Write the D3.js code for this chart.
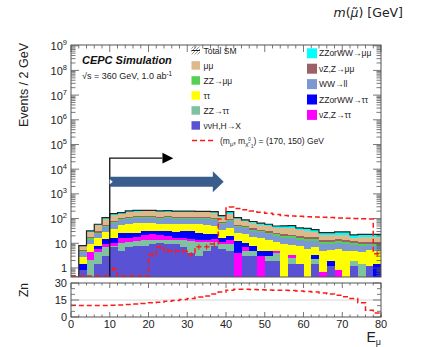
<!DOCTYPE html>
<html>
<head>
<meta charset="utf-8">
<script src="https://cdn.jsdelivr.net/npm/d3@7"></script>
<style>
  body { margin: 0; background: #fff; }
  svg { display: block; font-family: "Liberation Sans", Arial, Helvetica, sans-serif; }
</style>
</head>
<body>
<svg id="chart" width="423" height="347"></svg>
<script>
// bin low edges of E_mu (2 GeV bins)
const binLow = [0, 2, 4, 6, 8, 10, 12, 14, 16, 18, 20, 22, 24, 26, 28, 30, 32, 34, 36, 38,
                40, 42, 44, 46, 48, 50, 52, 54, 56, 58, 60, 62, 64, 66, 68, 70, 72, 74, 76, 78]

// background components, bottom of the stack first
const vvH    = [0, 0.8, 0, 1.5, 3, 7, 5, 7, 8, 8, 9, 10, 9, 9, 7, 4, 3, 5, 8, 6,
                5, 0, 3, 3, 0, 2, 2, 0, 1.5, 1.5, 0, 1.5, 0, 1.2, 0, 0, 1.2, 0, 1.2, 0]
const zztt   = [0, 0, 2.1, 3, 4, 1, 5, 4, 4, 5, 4, 3, 4, 5, 6, 8, 8, 6, 3, 3,
                4, 0, 2, 2, 0, 1, 2, 0, 1, 0, 0, 0.8, 0, 0, 0, 0, 0.8, 1.5, 0, 0]
const nzztt  = [0, 0, 2.4, 1.5, 2, 2, 6, 5, 6, 8, 10, 9, 7, 3, 3, 3, 3, 3, 4, 2,
                5, 4, 2, 0, 3, 0, 1, 0, 0.8, 0, 0, 0, 0.7, 0, 0.8, 0, 0, 0, 0, 0]
const zzwwtt = [0, 0.7, 0, 2, 6, 6, 10, 9, 8, 9, 7, 8, 10, 12, 14, 15, 12, 10, 8, 6,
                5, 8, 3, 3, 2, 2, 0, 0, 0, 0, 0, 1, 0, 0.8, 0, 0, 0, 0, 0, 1.5]
const tautau = [0, 1.4, 4.5, 8, 14, 22, 28, 35, 38, 35, 34, 30, 32, 30, 32, 30, 32, 30, 28, 18,
                22, 14, 14, 10, 12, 8, 6, 9, 5, 6, 6, 4, 4.3, 3.5, 5, 5, 3, 3, 4, 3.5]
const wwll   = [0, 1.4, 4.5, 8, 16, 30, 33, 38, 40, 42, 42, 40, 42, 40, 38, 40, 40, 42, 40, 26,
                36, 20, 16, 14, 12, 10, 9, 8, 8, 6, 6, 5, 4, 4, 4, 4, 3.5, 3.5, 3, 3]
const zzmm   = [0, 0.5, 2.5, 3, 5, 7, 8, 9, 9, 9, 9, 9, 9, 9, 9, 9, 9, 9, 9, 6,
                9, 5, 4, 4, 3, 3, 3, 3, 3, 2.5, 2.5, 2.5, 2, 2, 2, 2, 1.5, 1.5, 1.5, 1.5]
const nzzmm  = [0, 0.5, 2.5, 3, 5, 7, 9, 10, 10, 10, 10, 10, 10, 10, 10, 10, 10, 10, 10, 7,
                10, 6, 5, 4, 4, 4, 3, 3, 3, 3, 3.5, 3, 2.5, 2.5, 2.5, 2.5, 2, 2, 2, 2]
const mumu   = [0, 2.3, 11, 24, 45, 61, 50, 68, 70, 68, 70, 66, 67, 63, 62, 62, 60, 62, 62, 44,
                60, 40, 30, 27, 21, 21, 17, 18, 19, 14, 13, 10, 7.5, 7, 8, 9, 5, 6.5, 6.3, 6.5]
const zzwwmm = [0, 0.4, 2.5, 5, 9, 17, 19, 20, 22, 21, 20, 20, 20, 19, 19, 19, 18, 18, 18, 13,
                35, 12, 10, 9, 8, 8, 7, 10, 10, 9, 9, 8, 6, 6, 6.7, 6.5, 5, 5, 5, 5]

// signal (m_smuon, m_chi) = (170, 150) GeV
const signal = [0, 0, 0, 0, 0, 0.83, 0, 0, 0, 0, 3.2, 6.5, 4.5, 4.3, 4.3, 3.2, 6.6, 6.6, 8.5, 88,
                265, 234, 209, 186, 166, 148, 132, 120, 117, 112, 109, 106, 103, 100, 97, 94, 91, 89, 87, 3.4]

// significance per bin (lower pad)
const zn = [10.3, 10.2, 10.1, 10.1, 10.1, 10.3, 10.6, 11.0, 11.5, 12.0, 12.6, 13.1, 14.0, 14.6, 15.5, 16.3, 17.6, 18.6, 20.3, 22.0,
            23.7, 24.4, 24.5, 24.3, 24.1, 23.9, 23.7, 23.5, 23.3, 23.0, 22.6, 22.0, 21.2, 20.4, 19.3, 17.9, 16.4, 12.5, 6.0, 3.5]

const xTicks = [0, 10, 20, 30, 40, 50, 60, 70, 80]
const yDecades = [0, 1, 2, 3, 4, 5, 6, 7, 8, 9]
const znTicks = [0, 15, 30]

const keys = ['vvH', 'zztt', 'nzztt', 'zzwwtt', 'tautau', 'wwll', 'zzmm', 'nzzmm', 'mumu', 'zzwwmm']
const seriesByKey = { vvH, zztt, nzztt, zzwwtt, tautau, wwll, zzmm, nzzmm, mumu, zzwwmm }
const colors = {
  vvH: '#5a52d5', zztt: '#7fc2a0', nzztt: '#ff00ff', zzwwtt: '#0000ff', tautau: '#ffff00',
  wwll: '#7b98d2', zzmm: '#55d055', nzzmm: '#9a6268', mumu: '#dbb98b', zzwwmm: '#00ffff'
}

const svg = d3.select('#chart')
const frame = { l: 71, r: 381, t: 45, b: 277 }
const zf = { t: 283, b: 317 }
const yMin = 0.43

const x = d3.scaleLinear().domain([0, 80]).range([frame.l, frame.r])
const y = d3.scaleLog().domain([yMin, 1.07e9]).range([frame.b, frame.t]).clamp(true)
const yz = d3.scaleLinear().domain([0, 30]).range([zf.b, zf.t])

svg.append('defs').append('clipPath').attr('id', 'clipMain')
  .append('rect').attr('x', frame.l).attr('y', frame.t)
  .attr('width', frame.r - frame.l).attr('height', frame.b - frame.t)

const hatch = svg.select('defs').append('pattern').attr('id', 'hatch')
  .attr('patternUnits', 'userSpaceOnUse').attr('width', 3).attr('height', 3)
hatch.append('path').attr('d', 'M0,3 L3,0').attr('stroke', '#777').attr('stroke-width', 0.8)

// rows for the stack, with a closing row at 80 GeV
const rows = binLow.map((b, i) => {
  const r = { x: b }
  keys.forEach(k => { r[k] = seriesByKey[k][i] })
  return r
})
rows.push({ ...rows[rows.length - 1], x: 80 })

const stacked = d3.stack().keys(keys)(rows)
const area = d3.area()
  .curve(d3.curveStepAfter)
  .x(d => x(d.data.x))
  .y0(d => y(Math.max(d[0], yMin)))
  .y1(d => y(Math.max(d[1], yMin)))

const plot = svg.append('g').attr('clip-path', 'url(#clipMain)')

plot.selectAll('.layer')
  .data(stacked)
  .enter()
  .append('path')
  .attr('class', 'layer')
  .attr('d', area)
  .attr('fill', d => colors[d.key])
  .attr('shape-rendering', 'crispEdges')

// total SM outline
const totals = rows.map(r => ({ x: r.x, v: d3.sum(keys, k => r[k]) }))
const stepLine = d3.line().curve(d3.curveStepAfter)
plot.append('path')
  .attr('d', stepLine(totals.map(d => [x(d.x), y(Math.max(d.v, yMin))])))
  .attr('fill', 'none')
  .attr('stroke', '#222')
  .attr('stroke-width', 1.2)

// signal
const sigPts = signal.map((v, i) => [x(binLow[i]), y(Math.max(v, yMin)) - 1])
sigPts.push([x(80), sigPts[sigPts.length - 1][1]])
plot.append('path')
  .attr('d', stepLine(sigPts))
  .attr('fill', 'none')
  .attr('stroke', '#ff1a1a')
  .attr('stroke-width', 1.5)
  .attr('stroke-dasharray', '5,3')

// small error bars on the low signal bins
plot.selectAll('.sigerr')
  .data(signal.map((v, i) => ({ v, i })).filter(d => d.v > 0 && d.v < 20))
  .enter()
  .append('line')
  .attr('x1', d => x(binLow[d.i] + 1))
  .attr('x2', d => x(binLow[d.i] + 1))
  .attr('y1', d => y(d.v) - 3.5)
  .attr('y2', d => y(d.v) + 2)
  .attr('stroke', '#ff1a1a')
  .attr('stroke-width', 1)

// cut arrows
const cutX = x(10)
const arrowY = y(2.8e4)
svg.append('path')
  .attr('d', `M${cutX},${frame.b} V${arrowY} H${x(23.6)}`)
  .attr('fill', 'none')
  .attr('stroke', '#111')
  .attr('stroke-width', 1.3)
svg.append('path')
  .attr('d', `M${x(23.6)},${arrowY - 5.3} L${x(26.4)},${arrowY} L${x(23.6)},${arrowY + 5.3} Z`)
  .attr('fill', '#000')

const fatY = y(3100)
svg.append('path')
  .attr('d', `M${cutX},${fatY - 5} H${x(36.6)} V${fatY - 10.5} L${x(39.4)},${fatY} L${x(36.6)},${fatY + 10.5} V${fatY + 5} H${cutX} Z`)
  .attr('fill', '#3a5e8c')
svg.append('path')
  .attr('d', `M${cutX},${fatY - 2.5} L${cutX + 3},${fatY} L${cutX},${fatY + 2.5} Z`)
  .attr('fill', '#fff')

// main frame and ticks
const axisColor = '#555'
svg.append('rect')
  .attr('x', frame.l).attr('y', frame.t)
  .attr('width', frame.r - frame.l).attr('height', frame.b - frame.t)
  .attr('fill', 'none').attr('stroke', axisColor).attr('stroke-width', 1)

const yTickG = svg.append('g').attr('stroke', axisColor).attr('stroke-width', 0.8)
yDecades.concat([-1]).forEach(n => {
  for (let k = 1; k <= 9; k++) {
    const v = k * Math.pow(10, n)
    if (v < yMin || v > 1.07e9) continue
    const len = k === 1 ? 8 : 4.5
    const py = y(v)
    yTickG.append('line').attr('x1', frame.l).attr('x2', frame.l + len).attr('y1', py).attr('y2', py)
    yTickG.append('line').attr('x1', frame.r).attr('x2', frame.r - len).attr('y1', py).attr('y2', py)
  }
})

const xTickG = svg.append('g').attr('stroke', axisColor).attr('stroke-width', 0.8)
for (let v = 0; v <= 80; v += 2) {
  const major = v % 10 === 0
  const px = x(v)
  xTickG.append('line').attr('x1', px).attr('x2', px).attr('y1', frame.t).attr('y2', frame.t + (major ? 7 : 3.5))
  xTickG.append('line').attr('x1', px).attr('x2', px).attr('y1', zf.b).attr('y2', zf.b - (major ? 5 : 2.5))
  xTickG.append('line').attr('x1', px).attr('x2', px).attr('y1', zf.t).attr('y2', zf.t + (major ? 5 : 2.5))
}

// y tick labels (log)
const yLab = svg.append('g').attr('font-size', 11).attr('fill', '#222')
yDecades.forEach(n => {
  const t = yLab.append('text')
    .attr('x', 67)
    .attr('y', y(Math.pow(10, n)) + 4.5)
    .attr('text-anchor', 'end')
  if (n === 0) t.text('1')
  else if (n === 1) t.text('10')
  else {
    t.append('tspan').text('10')
    t.append('tspan').attr('dy', -5).attr('font-size', 7.5).text(n)
  }
})

svg.append('text')
  .attr('transform', 'translate(27.5,43) rotate(-90)')
  .attr('text-anchor', 'end')
  .attr('font-size', 12.5)
  .attr('fill', '#222')
  .text('Events / 2 GeV')

// lower pad
svg.append('line')
  .attr('x1', frame.l).attr('x2', frame.r)
  .attr('y1', yz(15)).attr('y2', yz(15))
  .attr('stroke', '#ccc').attr('stroke-width', 0.8)

const znPts = zn.map((v, i) => [x(binLow[i]), yz(v)])
znPts.push([x(80), yz(0)])
svg.append('path')
  .attr('d', stepLine(znPts))
  .attr('fill', 'none')
  .attr('stroke', '#ff1a1a')
  .attr('stroke-width', 1.5)
  .attr('stroke-dasharray', '5,3')

svg.append('rect')
  .attr('x', frame.l).attr('y', zf.t)
  .attr('width', frame.r - frame.l).attr('height', zf.b - zf.t)
  .attr('fill', 'none').attr('stroke', axisColor).attr('stroke-width', 1)

const zTickG = svg.append('g').attr('stroke', axisColor).attr('stroke-width', 0.8)
for (let v = 0; v <= 30; v += 5) {
  const major = v % 15 === 0
  const py = yz(v)
  zTickG.append('line').attr('x1', frame.l).attr('x2', frame.l + (major ? 8 : 4)).attr('y1', py).attr('y2', py)
  zTickG.append('line').attr('x1', frame.r).attr('x2', frame.r - (major ? 8 : 4)).attr('y1', py).attr('y2', py)
}

svg.append('g').attr('font-size', 11).attr('fill', '#222')
  .selectAll('text')
  .data(znTicks)
  .enter()
  .append('text')
  .attr('x', 67)
  .attr('y', d => yz(d) + 4)
  .attr('text-anchor', 'end')
  .text(d => d)

svg.append('text')
  .attr('transform', 'translate(27.5,283) rotate(-90)')
  .attr('text-anchor', 'end')
  .attr('font-size', 12)
  .attr('fill', '#222')
  .text('Zn')

svg.append('g').attr('font-size', 11).attr('fill', '#222')
  .selectAll('text')
  .data(xTicks)
  .enter()
  .append('text')
  .attr('x', d => x(d))
  .attr('y', 328)
  .attr('text-anchor', 'middle')
  .text(d => d)

const xTitle = svg.append('text')
  .attr('x', frame.r)
  .attr('y', 342)
  .attr('text-anchor', 'end')
  .attr('font-size', 14)
  .attr('fill', '#222')
xTitle.append('tspan').text('E')
xTitle.append('tspan').attr('dy', 3).attr('font-size', 9).text('μ')

// labels inside the plot
svg.append('text')
  .attr('x', 82).attr('y', 64)
  .attr('font-size', 11).attr('font-weight', 'bold').attr('font-style', 'italic')
  .attr('fill', '#111')
  .text('CEPC Simulation')

const energy = svg.append('text')
  .attr('x', 82).attr('y', 79)
  .attr('font-size', 9).attr('fill', '#222')
energy.append('tspan').text('√s = 360 GeV, 1.0 ab')
energy.append('tspan').attr('dy', -3.5).attr('font-size', 6.5).text('-1')

// legend, left column
const leftLegend = [
  { label: 'Total SM', key: null },
  { label: 'μμ', key: 'mumu' },
  { label: 'ZZ→μμ', key: 'zzmm' },
  { label: 'ττ', key: 'tautau' },
  { label: 'ZZ→ττ', key: 'zztt' },
  { label: 'ννH,H→X', key: 'vvH' }
]
const rightLegend = [
  { label: 'ZZorWW→μμ', key: 'zzwwmm' },
  { label: 'νZ,Z→μμ', key: 'nzzmm' },
  { label: 'WW→ll', key: 'wwll' },
  { label: 'ZZorWW→ττ', key: 'zzwwtt' },
  { label: 'νZ,Z→ττ', key: 'nzztt' }
]

const legL = svg.append('g').attr('font-size', 8.5).attr('fill', '#222')
leftLegend.forEach((item, i) => {
  const cy = 50.5 + i * 15
  if (item.key) {
    legL.append('rect').attr('x', 191.5).attr('y', cy - 4.3).attr('width', 8.5).attr('height', 8.5)
      .attr('fill', colors[item.key])
  } else {
    legL.append('rect').attr('x', 191.5).attr('y', cy - 4).attr('width', 8.5).attr('height', 8)
      .attr('fill', 'url(#hatch)')
    legL.append('line').attr('x1', 191.5).attr('x2', 200).attr('y1', cy).attr('y2', cy)
      .attr('stroke', '#222').attr('stroke-width', 1)
  }
  legL.append('text').attr('x', 203.5).attr('y', cy + 3).text(item.label)
})

const legR = svg.append('g').attr('font-size', 8.5).attr('fill', '#222')
rightLegend.forEach((item, i) => {
  const cy = 53.3 + i * 15.4
  legR.append('rect').attr('x', 307).attr('y', cy - 5).attr('width', 10).attr('height', 10)
    .attr('fill', colors[item.key])
  legR.append('text').attr('x', 319).attr('y', cy + 3).text(item.label)
})

// signal legend entry
const sigY = 140.5
svg.append('line')
  .attr('x1', 192).attr('x2', 213).attr('y1', sigY).attr('y2', sigY)
  .attr('stroke', '#ff1a1a').attr('stroke-width', 1.5).attr('stroke-dasharray', '5,3')
const sigText = svg.append('text').attr('x', 220).attr('y', sigY + 3)
  .attr('font-size', 8.5).attr('fill', '#222')
sigText.append('tspan').text('(m')
sigText.append('tspan').attr('dy', 2.5).attr('font-size', 6).text('μ̃')
sigText.append('tspan').attr('dy', -2.5).text(', m')
sigText.append('tspan').attr('dy', 2.5).attr('font-size', 6).text('χ̃')
sigText.append('tspan').attr('dy', -5).attr('font-size', 4.5).text('0')
sigText.append('tspan').attr('dy', 7).attr('font-size', 4.5).text('1')
sigText.append('tspan').attr('dy', -4.5).text(') = (170, 150) GeV')

// leftover axis title from the figure above
const topTitle = svg.append('text')
  .attr('x', 403).attr('y', 17)
  .attr('text-anchor', 'end')
  .attr('font-family', '"DejaVu Sans", sans-serif')
  .attr('font-size', 12.5)
  .attr('fill', '#222')
topTitle.append('tspan').attr('font-style', 'italic').text('m')
topTitle.append('tspan').text('(')
topTitle.append('tspan').attr('font-style', 'italic').text('μ̃')
topTitle.append('tspan').text(') [GeV]')
</script>
</body>
</html>
